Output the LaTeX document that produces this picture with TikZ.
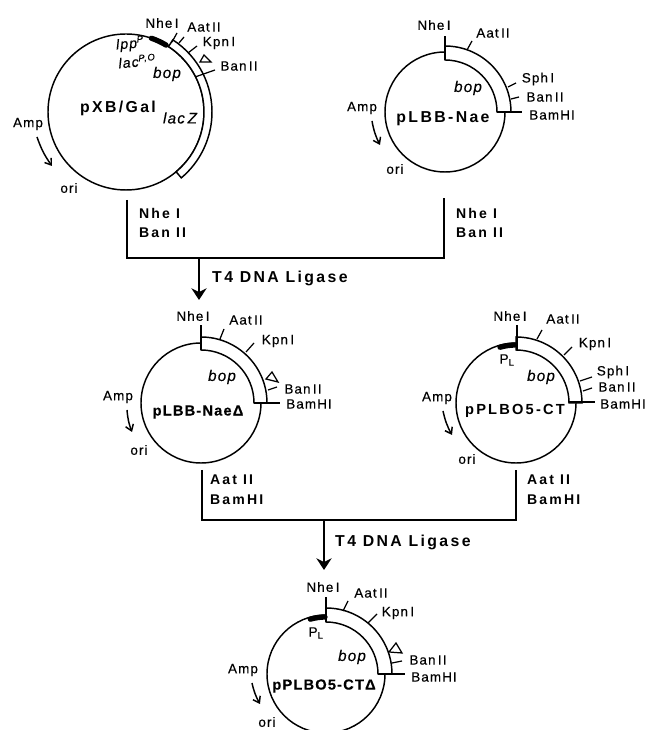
\documentclass[tikz,border=0pt]{standalone}
\usepackage{fontspec}
\usetikzlibrary{arrows.meta}
\newfontfamily\labelfont[LetterSpace=8, WordSpace=0.5, FakeBold=0.3]{Liberation Sans}
\newfontfamily\titlefont[LetterSpace=15]{Liberation Sans}

\begin{document}
\begin{tikzpicture}[
  x=0.03cm, y=0.03cm,
  dna/.style={line width=1.25pt},
  site/.style={line width=1.05pt},
  ring/.style={line width=1.25pt, fill=white},
  promoter/.style={line width=4.5pt, line cap=round},
  flow/.style={line width=1.5pt},
  ligate/.style={line width=1.5pt, -{Stealth[length=10pt, width=13pt]}},
  ampturn/.style={line width=1.25pt, -{Straight Barb[length=5pt, width=7pt]}, bend right=8},
  small/.style={font=\labelfont\fontsize{11.5}{13}\selectfont},
  gene/.style={font=\labelfont\itshape\fontsize{13}{15}\selectfont, inner sep=0pt},
  genetop/.style={font=\labelfont\itshape\fontsize{12}{13}\selectfont, inner sep=0pt},
  plasmid/.style={font=\titlefont\bfseries\fontsize{13.5}{15}\selectfont},
  plasmidct/.style={font=\titlefont\bfseries\fontsize{12.5}{15}\selectfont},
  plasmiddelta/.style={font=\labelfont\bfseries\fontsize{12.5}{15}\selectfont},
  cutlabel/.style={font=\titlefont\bfseries\fontsize{12}{17}\selectfont, align=left, anchor=west, inner sep=0pt},
  ligase/.style={font=\titlefont\bfseries\fontsize{13.5}{15}\selectfont, anchor=west, inner sep=0pt}
]
\path[use as bounding box, clip] (0,0) rectangle (653,730);

\coordinate (xb)  at (126,618);
\coordinate (lbb) at (445,618);
\coordinate (nd)  at (201,327);
\coordinate (ct)  at (516,327);
\coordinate (cd)  at (326,56);

% pXB/Gal
\draw[dna] (xb) circle[radius=78];
\draw[ring] ([shift={(57:78)}]xb) -- ([shift={(57:86)}]xb) arc[start angle=57, end angle=-50, radius=86]
  -- ([shift={(-50:78)}]xb) arc[start angle=-50, end angle=57, radius=78] -- cycle;
\draw[promoter] ([shift={(59:78)}]xb) arc[start angle=59, end angle=71, radius=78];
\draw[site] (172,688) -- (177,697);
\draw[site] (179,687) -- (184,693);
\draw[site] (188,677) -- (197,684);
\draw[site] (195,653) -- (215,660);
\draw[site, fill=white] (200,668) -- (204,675) -- (211,668) -- cycle;
\node[small] (xbNhe) at (162,707) {Nhe I};
\node[small] (xbAat) at (204,703) {Aat II};
\node[small] (xbKpn) at (219,687) {Kpn I};
\node[small] (xbBan) at (239,664) {Ban II};
\node[genetop, rotate=5] (xbLpp) at (130,686) {lpp\textsuperscript{P}};
\node[genetop, rotate=5] (xbLac) at (137,669) {lac\textsuperscript{P,O}};
\node[gene] (xbBop)  at (167,656) {bop};
\node[gene] (xbLacZ) at (180,612) {lac Z};
\node[plasmid] (xbName) at (118,622) {pXB/Gal};
\node[small] (xbAmp) at (28,606) {Amp};
\node[small] (xbOri) at (69,542) {ori};
\coordinate (xbA) at (37,593); \coordinate (xbB) at (52,564);
\draw[ampturn] (xbA) to (xbB);

% pLBB-Nae
\draw[dna] (lbb) circle[radius=60];
\draw[ring] ([shift={(90:52)}]lbb) -- ([shift={(90:66)}]lbb) arc[start angle=90, end angle=0, radius=66]
  -- ([shift={(0:52)}]lbb) arc[start angle=0, end angle=90, radius=52] -- cycle;
\draw[site] (445,670) -- (445,694);
\draw[site] (467,680) -- (472,689);
\draw[site] (508,643) -- (516,647);
\draw[site] (511,631) -- (519,633);
\draw[site] (497,618) -- (522,618);
\node[small] (lbbNhe) at (434,705) {Nhe I};
\node[small] (lbbAat) at (493,697) {Aat II};
\node[small] (lbbSph) at (538,651) {Sph I};
\node[small] (lbbBan) at (545,633) {Ban II};
\node[small] (lbbBam) at (552,615) {BamHI};
\node[gene] (lbbBop) at (468,642) {bop};
\node[plasmid] (lbbName) at (443,611) {pLBB-Nae};
\node[small] (lbbAmp) at (362,622) {Amp};
\node[small] (lbbOri) at (395,561) {ori};
\coordinate (lbbA) at (372,609); \coordinate (lbbB) at (380,585);
\draw[ampturn] (lbbA) to (lbbB);

% first ligation
\coordinate (oneL)  at (127,530);
\coordinate (oneLc) at (127,472);
\coordinate (oneRc) at (444,472);
\coordinate (oneR)  at (444,532);
\coordinate (oneM)  at (199,472);
\coordinate (oneT)  at (199,430);
\draw[flow] (oneL) -- (oneLc) -- (oneRc) -- (oneR);
\draw[ligate] (oneM) -- (oneT);
\node[cutlabel] (oneCutL) at (139,507) {Nhe I\\Ban II};
\node[cutlabel] (oneCutR) at (456,507) {Nhe I\\Ban II};
\node[ligase] (oneLig) at (212,452) {T4 DNA Ligase};

% pLBB-Nae delta
\draw[dna] (nd) circle[radius=60];
\draw[ring] ([shift={(90:53)}]nd) -- ([shift={(90:66)}]nd) arc[start angle=90, end angle=0, radius=66]
  -- ([shift={(0:53)}]nd) arc[start angle=0, end angle=90, radius=53] -- cycle;
\draw[site] (201,380) -- (201,405);
\draw[site] (220,391) -- (224,401);
\draw[site] (246,378) -- (254,387);
\draw[site] (268,340) -- (277,343);
\draw[site] (254,327) -- (280,327);
\draw[site, fill=white] (266,351) -- (272,358) -- (278,348) -- cycle;
\node[small] (ndNhe) at (193,414) {Nhe I};
\node[small] (ndAat) at (246,410) {Aat II};
\node[small] (ndKpn) at (278,389) {Kpn I};
\node[small] (ndBan) at (303,341) {Ban II};
\node[small] (ndBam) at (309,326) {BamHI};
\node[gene] (ndBop) at (222,353) {bop};
\node[plasmiddelta] (ndName) at (198,318) {pLBB-NaeΔ};
\node[small] (ndAmp) at (118,333) {Amp};
\node[small] (ndOri) at (139,280) {ori};
\coordinate (ndA) at (127,320); \coordinate (ndB) at (132,298);
\draw[ampturn] (ndA) to (ndB);

% pPLBO5-CT
\draw[dna] (ct) circle[radius=60];
\draw[ring] ([shift={(90:53)}]ct) -- ([shift={(90:66)}]ct) arc[start angle=90, end angle=0, radius=66]
  -- ([shift={(0:53)}]ct) arc[start angle=0, end angle=90, radius=53] -- cycle;
\draw[promoter] ([shift={(91:58)}]ct) arc[start angle=91, end angle=106, radius=58];
\draw[site] (517,380) -- (517,405);
\draw[site] (537,391) -- (542,400);
\draw[site] (564,375) -- (572,383);
\draw[site] (580,349) -- (592,353);
\draw[site] (583,339) -- (592,342);
\draw[site] (569,328) -- (595,328);
\node[small] (ctNhe) at (510,414) {Nhe I};
\node[small] (ctAat) at (563,411) {Aat II};
\node[small] (ctKpn) at (595,386) {Kpn I};
\node[small] (ctSph) at (613,358) {Sph I};
\node[small] (ctBan) at (617,343) {Ban II};
\node[small] (ctBam) at (623,326) {BamHI};
\node[small] (ctPl)  at (507,370) {P\textsubscript{L}};
\node[gene] (ctBop) at (541,353) {bop};
\node[plasmidct] (ctName) at (515,319) {pPLBO5-CT};
\node[small] (ctAmp) at (437,332) {Amp};
\node[small] (ctOri) at (467,271) {ori};
\coordinate (ctA) at (443,319); \coordinate (ctB) at (452,295);
\draw[ampturn] (ctA) to (ctB);

% second ligation
\coordinate (twoL)  at (202,260);
\coordinate (twoLc) at (202,210);
\coordinate (twoRc) at (516,210);
\coordinate (twoR)  at (516,260);
\coordinate (twoM)  at (324,210);
\coordinate (twoT)  at (324,160);
\draw[flow] (twoL) -- (twoLc) -- (twoRc) -- (twoR);
\draw[ligate] (twoM) -- (twoT);
\node[cutlabel] (twoCutL) at (210,240) {Aat II\\BamHI};
\node[cutlabel] (twoCutR) at (527,240) {Aat II\\BamHI};
\node[ligase] (twoLig) at (335,188) {T4 DNA Ligase};

% pPLBO5-CT delta
\draw[dna] (cd) circle[radius=59];
\draw[ring] ([shift={(90:52)}]cd) -- ([shift={(90:66)}]cd) arc[start angle=90, end angle=0, radius=66]
  -- ([shift={(0:52)}]cd) arc[start angle=0, end angle=90, radius=52] -- cycle;
\draw[promoter] ([shift={(91:57)}]cd) arc[start angle=91, end angle=106, radius=57];
\draw[site] (326,108) -- (326,133);
\draw[site] (343,119) -- (348,129);
\draw[site] (368,107) -- (377,116);
\draw[site] (392,67) -- (402,69);
\draw[site] (378,56) -- (405,56);
\draw[site, fill=white] (389,78) -- (396,87) -- (402,77) -- cycle;
\node[small] (cdNhe) at (323,143) {Nhe I};
\node[small] (cdAat) at (371,137) {Aat II};
\node[small] (cdKpn) at (398,117) {Kpn I};
\node[small] (cdBan) at (428,70) {Ban II};
\node[small] (cdBam) at (434,53) {BamHI};
\node[small] (cdPl)  at (316,97) {P\textsubscript{L}};
\node[gene] (cdBop) at (352,73) {bop};
\node[plasmiddelta] (cdName) at (324,44) {pPLBO5-CTΔ};
\node[small] (cdAmp) at (243,60) {Amp};
\node[small, inner sep=1pt] (cdOri) at (267,8) {ori};
\coordinate (cdA) at (252,47); \coordinate (cdB) at (260,26);
\draw[ampturn] (cdA) to (cdB);
\end{tikzpicture}
\end{document}
